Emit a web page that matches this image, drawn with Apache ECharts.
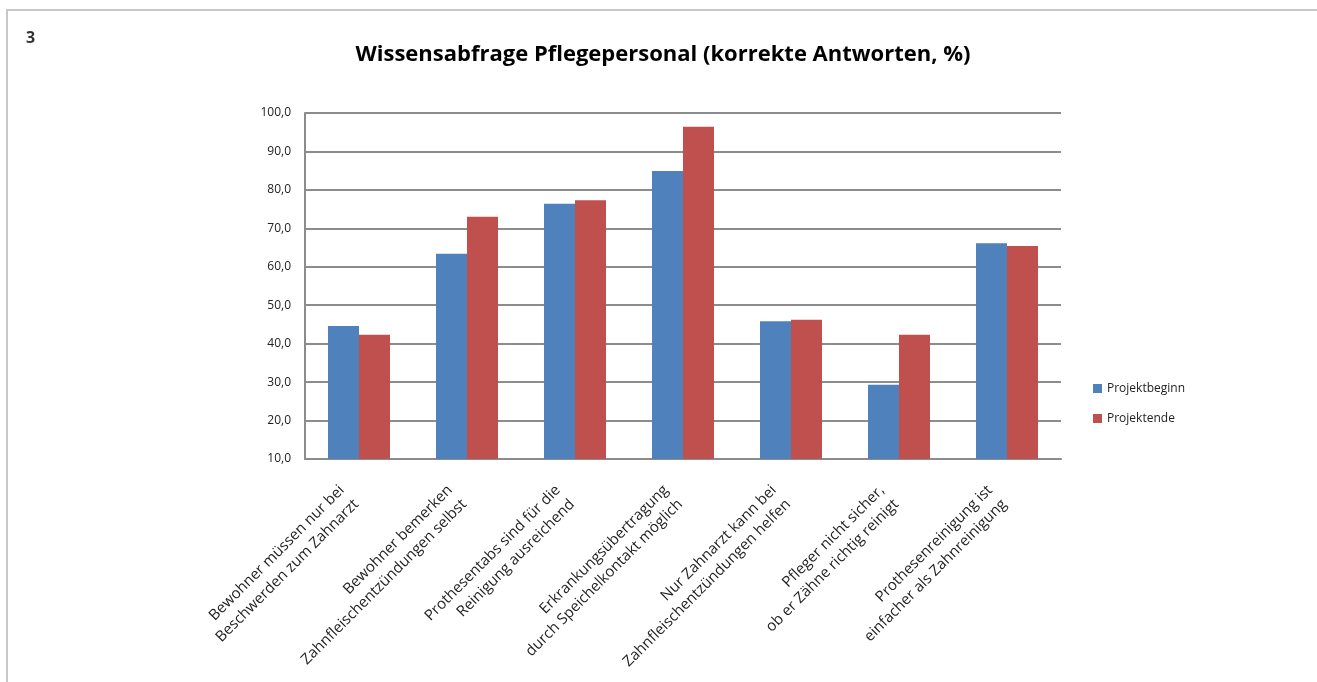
<!DOCTYPE html>
<html>
<head>
<meta charset="utf-8">
<script src="https://cdn.jsdelivr.net/npm/echarts@6/dist/echarts.min.js"></script>
<style>
  html, body { margin: 0; padding: 0; background: #fff; }
  .frame {
    position: absolute; left: 6px; top: 9px; width: 1400px; height: 800px;
    border-left: 2px solid #c8c8c8; border-top: 2px solid #c8c8c8;
  }
  #chart { position: absolute; left: 0; top: 0; width: 1317px; height: 682px; }
</style>
</head>
<body>
<div class="frame"></div>
<div id="chart"></div>
<script>
// Kategorien (Fragen) und Werte
var categories = [
    'Bewohner müssen nur bei\nBeschwerden zum Zahnarzt',
    'Bewohner bemerken\nZahnfleischentzündungen selbst',
    'Prothesentabs sind für die\nReinigung ausreichend',
    'Erkrankungsübertragung\ndurch Speichelkontakt möglich',
    'Nur Zahnarzt kann bei\nZahnfleischentzündungen helfen',
    'Pfleger nicht sicher,\nob er Zähne richtig reinigt',
    'Prothesenreinigung ist\neinfacher als Zahnreinigung'
];
var projektbeginn = [44.6, 63.4, 76.4, 84.9, 45.8, 29.3, 66.1];
var projektende = [42.3, 73.0, 77.3, 96.4, 46.2, 42.3, 65.4];
var seriesNames = ['Projektbeginn', 'Projektende'];

var font = '"Open Sans", sans-serif';

var chartDom = document.getElementById('chart');
var myChart = echarts.init(chartDom, null, { renderer: 'canvas' });

var option = {
    backgroundColor: 'transparent',
    animation: false,
    title: [
        {
            text: 'Wissensabfrage Pflegepersonal (korrekte Antworten, %)',
            left: 658, top: 39, textAlign: 'center',
            textStyle: { fontFamily: font, fontSize: 22, fontWeight: 'bold', color: '#000' }
        },
        {
            text: '3',
            left: 21, top: 25,
            textStyle: { fontFamily: font, fontSize: 16, fontWeight: 'bold', color: '#333' }
        }
    ],
    legend: {
        orient: 'vertical',
        left: 1088, top: 375,
        itemWidth: 9, itemHeight: 9, itemGap: 13, itemTextGap: 4,
        icon: 'rect',
        data: seriesNames,
        textStyle: { fontFamily: font, fontSize: 12, color: '#222', lineHeight: 17 }
    },
    grid: { left: 305, right: 256, top: 113, bottom: 223 },
    xAxis: {
        type: 'category',
        data: categories,
        axisLine: { lineStyle: { color: '#8c8c8c', width: 2 } },
        axisTick: { show: false },
        axisLabel: {
            interval: 0, rotate: 45, margin: 26, padding: [0, 14, 0, 0],
            fontFamily: font, fontSize: 15, color: '#222', lineHeight: 20
        }
    },
    yAxis: {
        type: 'value',
        min: 10, max: 100, interval: 10,
        axisLine: { show: true, lineStyle: { color: '#8c8c8c', width: 2 } },
        axisTick: { show: false },
        splitLine: { lineStyle: { color: '#8c8c8c', width: 2 } },
        axisLabel: {
            margin: 14, fontFamily: font, fontSize: 12, color: '#222',
            formatter: function (v) { return v.toFixed(1).replace('.', ','); }
        }
    },
    series: [
        {
            name: seriesNames[0], type: 'bar', data: projektbeginn,
            barWidth: 31, barGap: '0%',
            itemStyle: { color: '#4f81bd' }
        },
        {
            name: seriesNames[1], type: 'bar', data: projektende,
            barWidth: 31, barGap: '0%',
            itemStyle: { color: '#c0504d' }
        }
    ]
};

option && myChart.setOption(option);
</script>
</body>
</html>
